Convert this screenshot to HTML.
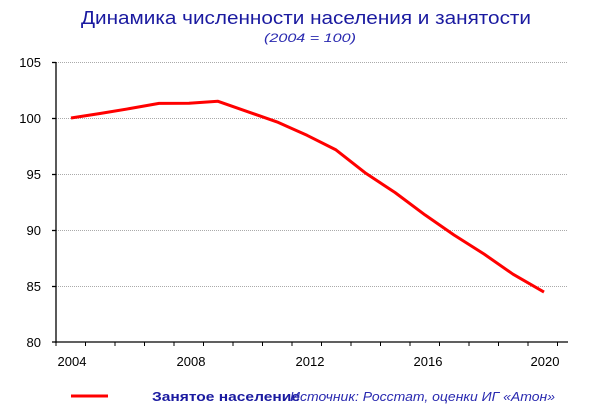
<!DOCTYPE html>
<html><head><meta charset="utf-8"><style>
body{margin:0;background:#fff;width:616px;height:407px;overflow:hidden}
svg text{font-family:"Liberation Sans",sans-serif}
</style></head><body>
<svg width="616" height="407" xmlns="http://www.w3.org/2000/svg">
<text x="81" y="24" font-size="18" fill="#1a1aa0" textLength="450" lengthAdjust="spacingAndGlyphs">Динамика численности населения и занятости</text>
<text x="264" y="42" font-size="12" font-style="italic" fill="#2a2ab0" textLength="92" lengthAdjust="spacingAndGlyphs">(2004 = 100)</text>
<g stroke="#aaa" stroke-dasharray="1,1" stroke-width="1">
<line x1="56" x2="568" y1="62.5" y2="62.5"/><line x1="56" x2="568" y1="118.5" y2="118.5"/>
<line x1="56" x2="568" y1="174.5" y2="174.5"/><line x1="56" x2="568" y1="230.5" y2="230.5"/>
<line x1="56" x2="568" y1="286.5" y2="286.5"/>
</g>
<g stroke="#000" stroke-width="1.3">
<line x1="56" y1="62" x2="56" y2="343"/><line x1="56" y1="342" x2="568" y2="342"/>
<line x1="52" y1="62.5" x2="56" y2="62.5"/><line x1="52" y1="118.5" x2="56" y2="118.5"/><line x1="52" y1="174.5" x2="56" y2="174.5"/><line x1="52" y1="230.5" x2="56" y2="230.5"/><line x1="52" y1="286.5" x2="56" y2="286.5"/><line x1="52" y1="342" x2="56" y2="342"/>
</g>
<g stroke="#000" stroke-width="1">
<path d="M56 342v4M85.5 342v4M115 342v4M144.5 342v4M174 342v4M203.5 342v4M233 342v4M262.5 342v4M292 342v4M321.5 342v4M351 342v4M380.5 342v4M410 342v4M439.5 342v4M469 342v4M498.5 342v4M528 342v4M557.5 342v4"/>
</g>
<g font-size="13" fill="#000" text-anchor="end">
<text x="41" y="67">105</text><text x="41" y="123">100</text><text x="41" y="179">95</text><text x="41" y="235">90</text><text x="41" y="291">85</text><text x="41" y="347">80</text>
</g>
<g font-size="13" fill="#000" text-anchor="middle">
<text x="72" y="366">2004</text><text x="191" y="366">2008</text><text x="310" y="366">2012</text><text x="428" y="366">2016</text><text x="545" y="366">2020</text>
</g>
<polyline fill="none" stroke="#f00" stroke-width="3" stroke-linejoin="round" points="71,118 100,113.5 130,108.5 159,103.4 189,103.2 218,101.3 248,111.8 277,121.9 307,135.3 336,149.9 366,173.4 395,192.5 425,214.9 454,235 484,254 513,274.2 544,292.1"/>
<line x1="71" y1="396" x2="108" y2="396" stroke="#f00" stroke-width="3"/>
<text x="152" y="401" font-size="13" font-weight="bold" fill="#1a1aa0" textLength="148" lengthAdjust="spacingAndGlyphs">Занятое население</text>
<text x="290" y="401" font-size="13" font-style="italic" fill="#2a2ab0" textLength="265" lengthAdjust="spacingAndGlyphs">Источник: Росстат, оценки ИГ «Атон»</text>
</svg>
</body></html>
